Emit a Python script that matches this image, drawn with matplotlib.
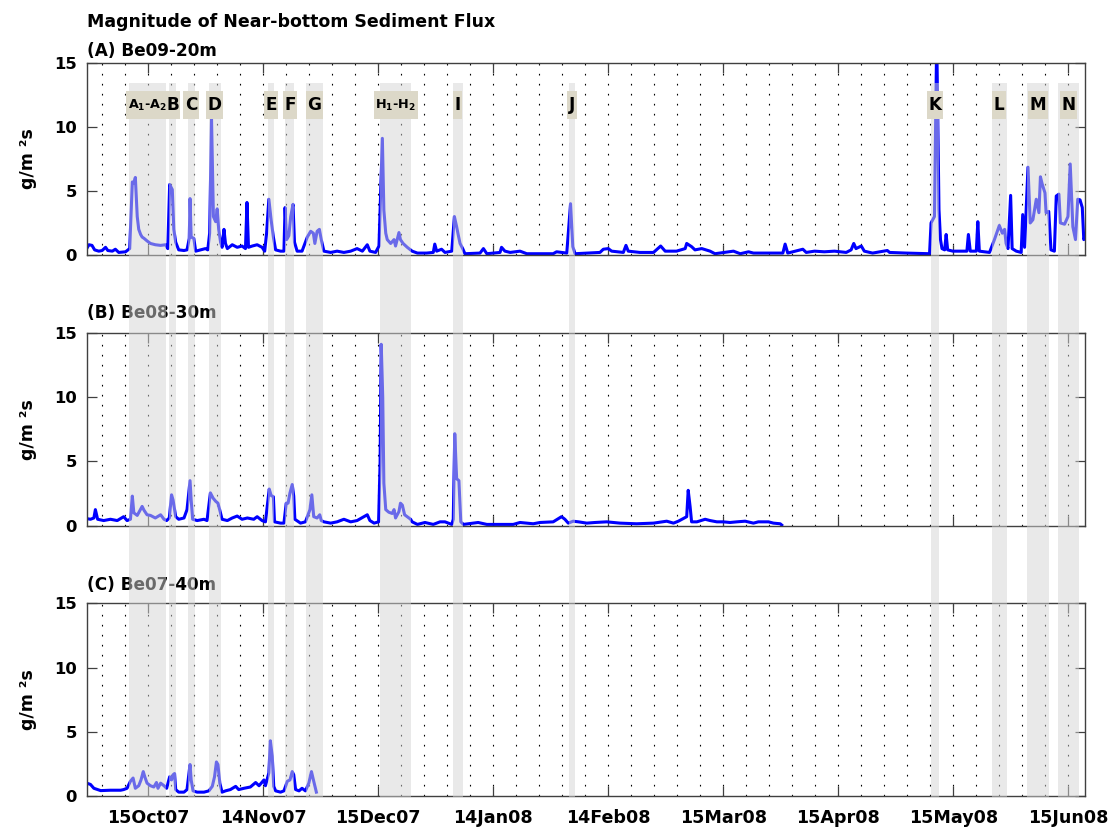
import matplotlib
matplotlib.use('Agg')
import matplotlib.pyplot as plt
import matplotlib.dates as mdates
from matplotlib.ticker import FixedLocator
from matplotlib.patches import Rectangle
from datetime import datetime

# ---------------------------------------------------------------- data
# (day since 15 Oct 2007, flux g/m^2 s)
A_TRACE = [(-16.3, 0.5), (-15.7, 0.8), (-14.9, 0.75), (-14.2, 0.4), (-13.1, 0.3), (-12.2, 0.35),
           (-11.3, 0.6), (-10.7, 0.35), (-9.5, 0.3), (-8.7, 0.45), (-7.8, 0.2), (-6.0, 0.25),
           (-4.9, 0.5), (-4.2, 5.7), (-3.8, 5.6), (-3.4, 6.05), (-2.9, 3.0), (-2.5, 2.0),
           (-2.0, 1.6), (-1.6, 1.4), (-1.1, 1.3), (-0.3, 1.1), (0.6, 0.9), (1.9, 0.8),
           (3.3, 0.75), (4.6, 0.8), (5.2, 0.5), (5.7, 5.5), (6.4, 5.1), (6.8, 2.0),
           (7.3, 1.0), (8.1, 0.4), (9.5, 0.35), (10.3, 0.4), (10.9, 1.3), (11.1, 4.4),
           (11.4, 1.4), (12.1, 1.3), (12.6, 0.3), (13.9, 0.4), (15.2, 0.5), (15.8, 0.4),
           (16.3, 1.7), (16.8, 10.65), (17.3, 3.0), (17.9, 2.6), (18.3, 3.6), (18.7, 2.0),
           (19.2, 1.0), (19.6, 0.6), (20.1, 2.0), (20.5, 0.9), (21.0, 0.5), (22.3, 0.8),
           (23.6, 0.6), (24.9, 0.7), (25.8, 0.5), (26.2, 4.1), (26.6, 0.6), (27.6, 0.7),
           (28.9, 0.8), (30.2, 0.6), (30.9, 0.3), (31.4, 1.7), (32.0, 4.35), (32.6, 2.75),
           (33.2, 1.4), (33.8, 0.4), (35.1, 0.3), (36.0, 0.3), (36.3, 3.7), (36.7, 1.2),
           (37.3, 1.5), (37.8, 3.0), (38.4, 3.95), (38.8, 1.0), (39.5, 0.3), (40.8, 0.3),
           (42.2, 1.4), (43.1, 1.85), (43.8, 1.7), (44.2, 0.9), (44.8, 1.85), (45.4, 2.0),
           (45.9, 1.2), (46.6, 0.3), (48.4, 0.2), (50.1, 0.3), (51.9, 0.2), (53.7, 0.3),
           (55.4, 0.5), (56.8, 0.3), (58.1, 0.8), (58.8, 0.3), (60.3, 0.2), (61.2, 0.7),
           (61.6, 4.5), (62.1, 9.1), (62.5, 3.5), (63.0, 1.7), (63.4, 1.2), (64.3, 0.9),
           (65.2, 1.2), (65.6, 0.7), (66.5, 1.75), (66.9, 1.2), (67.6, 0.9), (68.7, 0.6),
           (70.0, 0.3), (71.4, 0.15), (73.8, 0.15), (75.6, 0.2), (76.0, 0.85), (76.5, 0.3),
           (77.8, 0.45), (78.7, 0.2), (80.5, 0.3), (81.2, 3.0), (81.8, 2.2), (82.2, 1.6),
           (82.7, 0.9), (83.4, 0.5), (84.0, 0.1), (88.0, 0.15), (88.9, 0.5), (89.8, 0.1),
           (93.3, 0.2), (93.7, 0.6), (94.6, 0.3), (96.0, 0.2), (98.6, 0.3), (100.4, 0.1),
           (107.4, 0.1), (108.3, 0.25), (111.0, 0.15), (112.0, 4.0), (112.6, 0.65), (113.2, 0.1),
           (116.3, 0.15), (119.8, 0.2), (120.7, 0.45), (122.0, 0.5), (122.9, 0.3), (126.0, 0.2),
           (126.7, 0.75), (127.3, 0.3), (130.4, 0.2), (134.0, 0.2), (135.9, 0.7), (137.1, 0.3),
           (140.1, 0.3), (142.4, 0.5), (142.8, 0.9), (144.1, 0.65), (145.0, 0.4), (146.8, 0.5),
           (149.0, 0.3), (150.3, 0.1), (155.2, 0.3), (157.0, 0.1), (159.2, 0.25), (160.5, 0.15),
           (163.9, 0.15), (168.3, 0.15), (168.9, 0.85), (169.6, 0.15), (170.9, 0.25), (173.6, 0.45),
           (174.5, 0.2), (176.7, 0.3), (179.3, 0.25), (182.0, 0.3), (185.1, 0.2), (186.4, 0.4),
           (187.1, 0.9), (187.7, 0.5), (189.1, 0.7), (189.9, 0.3), (192.1, 0.15), (196.0, 0.35),
           (196.6, 0.2), (201.0, 0.15), (207.2, 0.1), (207.6, 2.5), (208.5, 3.0), (209.1, 17.0),
           (209.7, 3.55), (210.1, 1.2), (210.5, 0.5), (211.2, 0.4), (211.6, 1.6), (212.0, 0.4),
           (213.4, 0.3), (215.1, 0.3), (217.1, 0.3), (217.5, 1.6), (218.0, 0.3), (219.6, 0.3),
           (220.0, 2.6), (220.4, 0.3), (223.1, 0.2), (224.4, 1.2), (225.0, 1.7), (225.7, 2.3),
           (226.5, 1.7), (227.1, 2.0), (227.5, 0.9), (228.0, 0.5), (228.7, 4.65), (229.1, 0.5),
           (230.2, 0.3), (231.5, 0.2), (231.9, 3.15), (232.4, 0.6), (233.3, 6.85), (233.9, 2.5),
           (234.6, 2.75), (235.5, 4.35), (236.2, 3.3), (236.6, 6.1), (237.1, 5.5), (237.8, 4.85),
           (238.1, 3.3), (238.8, 3.4), (239.4, 0.4), (240.3, 0.3), (240.8, 4.6), (241.5, 4.75),
           (241.9, 2.5), (243.0, 2.4), (243.9, 3.0), (244.5, 7.1), (245.2, 2.2), (245.9, 1.2),
           (246.5, 4.35), (247.1, 4.3), (247.7, 3.7), (248.1, 1.2), (248.5, 1.5)]

B_TRACE = [(-16.3, 0.55), (-15.3, 0.5), (-14.4, 0.6), (-14.0, 1.25), (-13.4, 0.5), (-11.8, 0.4),
           (-10.0, 0.5), (-8.2, 0.4), (-6.5, 0.7), (-5.6, 0.4), (-4.7, 0.5), (-4.2, 2.3),
           (-3.8, 1.0), (-2.9, 0.8), (-1.6, 1.5), (-1.1, 1.2), (-0.3, 0.85), (0.6, 0.8),
           (1.9, 0.6), (3.3, 0.85), (4.2, 0.5), (4.9, 0.4), (5.6, 0.6), (6.2, 2.4),
           (6.6, 2.0), (7.3, 0.7), (8.1, 0.5), (9.5, 0.6), (10.3, 1.25), (11.1, 3.5),
           (11.4, 2.0), (11.8, 0.5), (13.0, 0.4), (14.8, 0.5), (15.6, 0.4), (16.5, 2.55),
           (17.2, 2.15), (17.9, 1.9), (18.5, 1.75), (19.0, 1.2), (19.6, 0.5), (21.0, 0.4),
           (22.3, 0.6), (23.6, 0.75), (24.9, 0.5), (26.3, 0.6), (28.0, 0.5), (28.9, 0.7),
           (30.2, 0.4), (31.1, 0.3), (32.1, 2.85), (32.6, 2.35), (33.2, 2.25), (33.5, 0.3),
           (35.1, 0.2), (36.0, 0.2), (36.6, 1.75), (37.1, 1.75), (37.6, 2.55), (38.2, 3.2),
           (38.6, 2.3), (38.9, 0.5), (40.4, 0.2), (41.7, 0.3), (42.9, 1.25), (43.4, 2.4),
           (43.9, 0.7), (44.8, 0.6), (45.5, 0.85), (45.9, 0.4), (46.6, 0.3), (48.4, 0.2),
           (50.1, 0.3), (51.9, 0.5), (53.7, 0.3), (55.4, 0.4), (58.1, 0.85), (58.8, 0.4),
           (59.9, 0.2), (61.1, 0.3), (61.5, 4.9), (61.8, 14.1), (62.2, 10.0), (62.5, 3.3),
           (63.0, 1.25), (63.8, 1.05), (64.7, 0.95), (65.2, 1.25), (65.6, 0.6), (66.5, 1.1),
           (66.9, 1.75), (67.4, 1.6), (68.0, 0.85), (68.7, 0.7), (69.6, 0.5), (70.0, 0.3),
           (71.4, 0.1), (73.4, 0.25), (75.6, 0.1), (77.4, 0.3), (78.7, 0.3), (80.5, 0.1),
           (80.9, 0.5), (81.3, 7.15), (81.8, 3.65), (82.4, 3.5), (82.9, 0.3), (83.6, 0.1),
           (87.5, 0.25), (89.8, 0.1), (96.8, 0.1), (98.6, 0.25), (102.1, 0.15), (103.9, 0.25),
           (107.4, 0.3), (109.6, 0.7), (110.5, 0.5), (111.4, 0.2), (112.7, 0.35), (114.1, 0.3),
           (116.3, 0.2), (118.5, 0.25), (121.6, 0.3), (125.1, 0.2), (129.5, 0.15), (134.0, 0.2),
           (137.5, 0.35), (139.3, 0.2), (140.6, 0.35), (142.8, 0.7), (143.2, 2.75), (143.7, 1.5),
           (144.1, 0.3), (145.5, 0.3), (147.7, 0.5), (149.0, 0.4), (150.8, 0.3), (152.5, 0.3),
           (154.3, 0.25), (156.1, 0.3), (158.3, 0.35), (160.5, 0.2), (161.8, 0.3), (164.5, 0.3),
           (165.8, 0.2), (167.6, 0.15), (168.0, 0.05)]

C_TRACE = [(-16.3, 1.0), (-15.3, 0.9), (-14.4, 0.6), (-12.6, 0.42), (-10.0, 0.45), (-7.3, 0.45),
           (-6.5, 0.5), (-5.6, 0.6), (-4.7, 1.15), (-4.0, 1.4), (-3.4, 0.6), (-2.5, 0.8),
           (-1.9, 1.25), (-1.3, 1.9), (-0.9, 1.5), (-0.3, 1.0), (0.6, 0.8), (1.5, 0.7),
           (2.2, 1.05), (2.6, 0.6), (3.3, 1.0), (4.2, 0.8), (4.9, 0.6), (5.7, 1.5),
           (6.2, 1.25), (6.6, 1.65), (7.0, 1.75), (7.3, 0.5), (8.1, 0.3), (9.5, 0.3),
           (10.3, 0.5), (11.1, 2.45), (11.4, 1.25), (11.9, 0.4), (13.0, 0.3), (14.8, 0.3),
           (16.1, 0.4), (17.0, 0.75), (17.6, 1.5), (18.1, 2.65), (18.5, 2.45), (19.0, 1.0),
           (19.6, 0.3), (20.5, 0.4), (21.8, 0.5), (23.2, 0.75), (24.0, 0.5), (25.4, 0.6),
           (27.1, 0.7), (28.5, 1.05), (29.4, 0.8), (30.7, 1.25), (31.1, 0.8), (32.0, 1.8),
           (32.4, 4.3), (32.9, 3.1), (33.3, 0.75), (33.8, 0.4), (35.1, 0.3), (36.0, 0.4),
           (36.9, 1.15), (37.6, 1.25), (38.2, 1.9), (38.6, 1.65), (39.1, 0.5), (40.0, 0.4),
           (40.8, 0.6), (41.7, 0.4), (42.6, 1.0), (43.3, 1.9), (43.9, 1.15), (44.6, 0.3)]

# event windows (days since 15 Oct 2007) and their labels
BAND_START = [-5.1, 5.6, 10.5, 16.1, 31.8, 36.3, 41.9, 61.6, 80.7, 111.6, 207.6, 223.7, 233.0, 241.2]
BAND_END = [4.6, 7.3, 12.3, 19.2, 33.3, 38.8, 46.3, 69.8, 83.4, 113.2, 209.8, 227.7, 239.0, 246.7]
BAND_LABELS = [r'A$_\mathbf{1}$-A$_\mathbf{2}$', 'B', 'C', 'D', 'E', 'F', 'G',
               r'H$_\mathbf{1}$-H$_\mathbf{2}$', 'I', 'J', 'K', 'L', 'M', 'N']

PANEL_TITLES = ['(A) Be09-20m', '(B) Be08-30m', '(C) Be07-40m']
TITLE = 'Magnitude of Near-bottom Sediment Flux'

# ---------------------------------------------------------------- layout
W, H = 1112, 830


def px_rect(x0, y0, x1, y1):
    # pixel box (top-left origin) -> figure fraction rect
    return [x0 / W, 1 - y1 / H, (x1 - x0) / W, (y1 - y0) / H]


plt.rcParams['font.family'] = ['DejaVu Sans']
plt.rcParams['font.weight'] = 'bold'
plt.rcParams['mathtext.fontset'] = 'dejavusans'

fig = plt.figure(figsize=(W / 100, H / 100), dpi=100)

base = mdates.date2num(datetime(2007, 10, 15))
xlo, xhi = base - 16.3, base + 248.5
major = [base + 30.5 * k for k in range(9)]
minor = [base + 6.1 * k for k in range(-2, 41)]

LEFT, RIGHT = 86.7, 1085.3
boxes = [(62.7, 255.0), (332.7, 525.7), (603.3, 796.0)]
title_base = [56, 318, 590]

for i, (trace, (top, bot)) in enumerate(zip([A_TRACE, B_TRACE, C_TRACE], boxes)):
    ax = fig.add_axes(px_rect(LEFT, top, RIGHT, bot))
    days = [base + d for d, v in trace]
    flux = [v for d, v in trace]
    ax.plot(days, flux, color='#0000ff', lw=2.2)
    ax.set_xlim(xlo, xhi)
    ax.set_ylim(0, 15)
    ax.set_yticks([0, 5, 10, 15])
    ax.xaxis.set_major_locator(FixedLocator(major))
    ax.xaxis.set_minor_locator(FixedLocator(minor))
    ax.xaxis.set_major_formatter(mdates.DateFormatter('%d%b%y'))
    ax.grid(True, axis='x', which='both', color='k', lw=0.8, linestyle=(0, (1.5, 7.5)))
    ax.tick_params(which='major', direction='in', length=7, width=0.9, top=True, right=True,
                   colors='0.25', labelcolor='k')
    ax.tick_params(axis='x', which='major', pad=9, labelsize=12.6)
    ax.tick_params(axis='y', which='major', pad=7, labelsize=11.8)
    ax.tick_params(which='minor', length=0)
    if i < 2:
        ax.tick_params(labelbottom=False)
    ax.set_ylabel('g/m ²s', fontsize=12.5, fontweight='bold')
    ax.yaxis.set_label_coords(-0.050, 0.5)
    for s in ax.spines.values():
        s.set_color('0.25')
        s.set_linewidth(1.0)
    fig.text(LEFT / W, 1 - title_base[i] / H, PANEL_TITLES[i], fontsize=12.2,
             fontweight='bold', va='baseline')

fig.text(LEFT / W, 1 - 27 / H, TITLE, fontsize=12.5, fontweight='bold', va='baseline')

# translucent event bands laid over all three panels
OV_TOP, OV_BOT = 82.7, 797.0
ov = fig.add_axes(px_rect(LEFT, OV_TOP, RIGHT, OV_BOT), zorder=10)
ov.set_xlim(xlo, xhi)
ov.set_ylim(0, 1)
ov.axis('off')
for s, e in zip(BAND_START, BAND_END):
    ov.axvspan(base + s, base + e, color='#d4d4d4', alpha=0.5, lw=0, zorder=1)


def yfrac(py):
    return (OV_BOT - py) / (OV_BOT - OV_TOP)


labels = []
for s, e, lab in zip(BAND_START, BAND_END, BAND_LABELS):
    fs = 9.2 if '$' in lab else 12.2
    t = ov.text(base + (s + e) / 2, yfrac(105), lab, ha='center', va='center',
                fontsize=fs, fontweight='bold', color='k', zorder=3)
    labels.append(t)

fig.canvas.draw()
renderer = fig.canvas.get_renderer()
days_per_px = (xhi - xlo) / (RIGHT - LEFT)
for t in labels:
    bb = t.get_window_extent(renderer)
    hw = (bb.width / 2 + 1.5) * days_per_px
    cx = t.get_position()[0]
    ov.add_patch(Rectangle((cx - hw, yfrac(119.3)), 2 * hw, yfrac(90.7) - yfrac(119.3),
                           facecolor='#dcd8c8', edgecolor='none', zorder=2))

fig.savefig('out.png', dpi=100)
